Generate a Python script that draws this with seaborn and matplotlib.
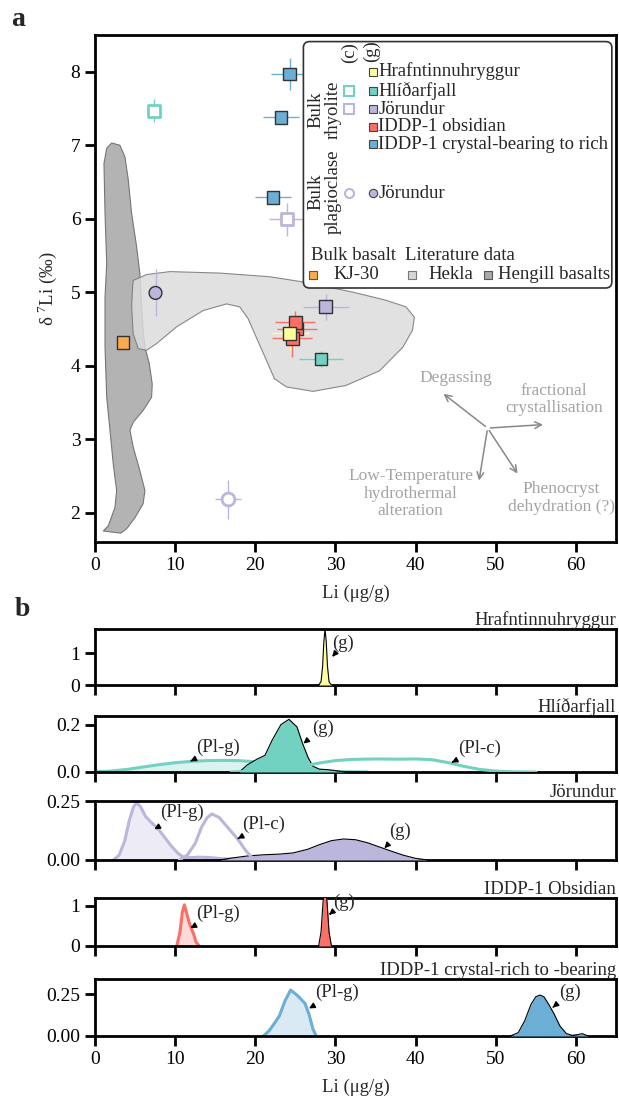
import numpy as np
import pandas as pd
import seaborn as sns
import matplotlib.pyplot as plt
from matplotlib.patches import Polygon, FancyBboxPatch

# ---------------- data: panel a (bulk values) ----------------
pt_group = ['Hlíðarfjall', 'IDDP-1 crystal', 'IDDP-1 crystal', 'IDDP-1 crystal', 'Jörundur',
            'Jörundur', 'KJ-30', 'Jörundur', 'IDDP-1 obsidian', 'IDDP-1 obsidian',
            'IDDP-1 obsidian', 'Hrafntinnuhryggur', 'Hlíðarfjall', 'Jörundur']
pt_kind = ['rhy_c', 'rhy_g', 'rhy_g', 'rhy_g', 'rhy_c',
           'plag_g', 'basalt', 'rhy_g', 'rhy_g', 'rhy_g',
           'rhy_g', 'rhy_g', 'rhy_g', 'plag_c']
pt_li = [7.4, 24.3, 23.2, 22.2, 24.0, 7.55, 3.5, 28.8, 25.2, 25.0, 24.6, 24.3, 28.2, 16.6]
pt_d7li = [7.47, 7.97, 7.38, 6.29, 5.99, 4.99, 4.32, 4.80, 4.50, 4.59, 4.37, 4.44, 4.09, 2.18]
pt_li_err = [0, 2.4, 2.3, 2.2, 2.3, 0, 0, 2.9, 2.5, 2.5, 2.5, 2.4, 2.8, 1.65]
pt_d7li_err = [0.16, 0.22, 0.05, 0.05, 0.23, 0.32, 0, 0.18, 0.15, 0.15, 0.25, 0.23, 0.11, 0.27]

# literature fields
hengill_li = [2.08, 3.1, 3.74, 4.15, 4.57, 5.19, 5.6, 5.8, 6.0, 6.23, 6.77, 7.14, 7.06, 6.0,
              4.77, 4.36, 4.77, 5.6, 6.23, 6.0, 4.98, 3.95, 3.2, 1.03, 1.66, 2.49, 2.7, 2.28,
              1.87, 1.46, 1.25, 1.25, 1.46, 1.25, 1.12, 1.46]
hengill_d7li = [7.03, 7.0, 6.84, 6.53, 6.07, 5.62, 5.25, 4.84, 4.48, 4.25, 4.03, 3.75, 3.57, 3.39,
                3.23, 3.12, 2.89, 2.57, 2.3, 2.12, 1.93, 1.78, 1.72, 1.75, 1.82, 2.07, 2.3, 2.66,
                3.12, 3.57, 4.25, 4.93, 5.39, 6.07, 6.75, 6.96]
hekla_li = [4.77, 6.44, 9.34, 15.57, 21.8, 25.9, 32.2, 36.3, 38.8, 39.85, 39.6, 38.4, 35.5, 31.3,
            27.2, 23.9, 22.4, 21.4, 20.1, 19.1, 18.06, 16.4, 13.5, 10.2, 7.68, 6.44, 5.4, 4.77,
            4.57, 4.69]
hekla_d7li = [5.16, 5.24, 5.28, 5.26, 5.21, 5.14, 5.0, 4.89, 4.8, 4.66, 4.48, 4.25, 3.93, 3.73,
              3.65, 3.71, 3.82, 4.07, 4.39, 4.64, 4.8, 4.84, 4.75, 4.53, 4.3, 4.21, 4.23, 4.43,
              4.8, 5.07]

# ---------------- data: panel b (density curves) ----------------
hraf_g_li = [27.9, 28.2, 28.4, 28.55, 28.7, 28.85, 29.0, 29.2, 29.5]
hraf_g_dens = [0.0, 0.1, 0.6, 1.35, 1.75, 1.35, 0.6, 0.1, 0.0]

hlid_plg_li = [0, 2, 4, 6, 8, 10, 12, 14, 16, 18, 20, 22, 24, 26, 28, 30, 32, 34]
hlid_plg_dens = [0.001, 0.004, 0.011, 0.021, 0.031, 0.039, 0.045, 0.048, 0.049, 0.048, 0.043,
                 0.033, 0.022, 0.012, 0.006, 0.002, 0.001, 0]
hlid_g_li = [18.0, 19.0, 20.2, 21.2, 22.1, 23.2, 24.2, 25.2, 25.9, 26.6, 27.2, 28.0, 29.0, 30.2, 31.2]
hlid_g_dens = [0, 0.03, 0.054, 0.07, 0.134, 0.2, 0.222, 0.19, 0.12, 0.06, 0.024, 0.012, 0.01, 0.005, 0]
hlid_plc_li = [17, 20, 23, 26, 28, 30, 32, 35, 38, 40, 42, 44, 46, 48, 50, 52, 55]
hlid_plc_dens = [0.0, 0.004, 0.012, 0.025, 0.038, 0.048, 0.053, 0.055, 0.054, 0.055, 0.052,
                 0.040, 0.024, 0.011, 0.004, 0.001, 0]

jor_plg_li = [2.3, 3.0, 3.7, 4.3, 4.8, 5.2, 5.7, 6.3, 7.0, 7.8, 8.6, 9.5, 10.3, 11.0, 12, 13,
              14.5, 16, 18, 20]
jor_plg_dens = [0, 0.02, 0.08, 0.17, 0.225, 0.243, 0.225, 0.185, 0.16, 0.135, 0.1, 0.06, 0.03,
                0.012, 0.01, 0.012, 0.01, 0.005, 0.002, 0]
jor_g_li = [15.5, 17, 19, 21, 23, 24.7, 26.5, 28, 29.5, 31, 32.5, 34, 35.5, 37, 38.5, 40, 41.5]
jor_g_dens = [0, 0.008, 0.017, 0.022, 0.025, 0.03, 0.045, 0.065, 0.082, 0.089, 0.086, 0.073,
              0.055, 0.037, 0.02, 0.007, 0]
jor_plc_li = [10.5, 11.5, 12.5, 13.3, 14.0, 14.6, 15.5, 16.5, 17.8, 18.8, 19.6, 20.2]
jor_plc_dens = [0, 0.02, 0.07, 0.14, 0.18, 0.195, 0.18, 0.14, 0.089, 0.04, 0.01, 0]

obs_plg_li = [10.2, 10.6, 10.9, 11.15, 11.4, 11.7, 12.0, 12.3, 12.6, 13.0]
obs_plg_dens = [0, 0.35, 0.85, 1.03, 0.85, 0.62, 0.45, 0.3, 0.1, 0]
obs_g_li = [27.9, 28.2, 28.45, 28.7, 28.95, 29.2, 29.5]
obs_g_dens = [0, 0.35, 1.1, 1.6, 1.1, 0.35, 0]

cry_plg_li = [21.0, 21.7, 22.3, 23.0, 23.7, 24.4, 25.2, 26.2, 26.7, 27.2, 27.6]
cry_plg_dens = [0, 0.03, 0.07, 0.12, 0.21, 0.275, 0.245, 0.195, 0.13, 0.04, 0]
cry_g_li = [51.8, 52.8, 53.6, 54.4, 55.0, 55.5, 56.0, 56.6, 57.3, 58.0, 58.8, 59.5, 60.2, 60.8, 61.5]
cry_g_dens = [0, 0.02, 0.09, 0.19, 0.235, 0.245, 0.235, 0.19, 0.13, 0.06, 0.015, 0.004, 0.008,
              0.014, 0]

colors = {'Hrafntinnuhryggur': '#ffff99', 'Hlíðarfjall': '#72d2c2', 'Jörundur': '#bab6dc',
          'IDDP-1 obsidian': '#fb6f67', 'IDDP-1 crystal': '#6baed6', 'KJ-30': '#fdaa4f'}

FS = 13.5

# ---------------- style ----------------
sns.set_theme(style="ticks", rc={
    'axes.linewidth': 2, 'xtick.major.width': 2, 'ytick.major.width': 2,
    'xtick.major.size': 7, 'ytick.major.size': 7, 'axes.edgecolor': 'black',
    'xtick.color': 'black', 'ytick.color': 'black',
    'xtick.labelsize': 14, 'ytick.labelsize': 14, 'axes.labelsize': FS})
plt.rcParams['font.family'] = ['Liberation Serif', 'DejaVu Serif']
plt.rcParams['mathtext.fontset'] = 'custom'
plt.rcParams['mathtext.rm'] = 'Liberation Serif'

W, H = 619, 1102
fig = plt.figure(figsize=(W / 100, H / 100), dpi=100)


def px_axes(left, top, right, bottom):
    return fig.add_axes([left / W, 1 - bottom / H, (right - left) / W, (bottom - top) / H])


# ================= panel a =================
ax = px_axes(95, 35, 616, 542)
ax.add_patch(Polygon(np.column_stack([hengill_li, hengill_d7li]), closed=True,
                     fc='#b3b3b3', ec='#767676', lw=0.8, zorder=1))
ax.add_patch(Polygon(np.column_stack([hekla_li, hekla_d7li]), closed=True,
                     fc='#dcdcdc', ec='#767676', lw=0.8, alpha=0.85, zorder=1.5))

pts = pd.DataFrame({'group': pt_group, 'kind': pt_kind, 'li': pt_li, 'd7li': pt_d7li,
                    'li_err': pt_li_err, 'd7li_err': pt_d7li_err})
for _, r in pts.iterrows():
    ax.errorbar(r.li, r.d7li, xerr=r.li_err, yerr=r.d7li_err, fmt='none',
                ecolor=colors[r.group], elinewidth=1, capsize=0, zorder=3)

filled = pts[pts.kind.isin(['rhy_g', 'plag_g', 'basalt'])]
sns.scatterplot(data=filled, x='li', y='d7li', hue='group', palette=colors, style='kind',
                markers={'rhy_g': 's', 'plag_g': 'o', 'basalt': 's'}, s=85,
                edgecolor='#333333', linewidth=1, legend=False, ax=ax, zorder=4)
opened = pts[pts.kind.isin(['rhy_c', 'plag_c'])]
for _, r in opened.iterrows():
    ax.scatter(r.li, r.d7li, marker='s' if r.kind == 'rhy_c' else 'o', s=85,
               facecolors='white', edgecolors=colors[r.group], linewidths=2, zorder=4)

ax.set_xlim(0, 65)
ax.set_ylim(1.6, 8.5)
ax.set_xticks(range(0, 61, 10))
ax.set_yticks(range(2, 9))
ax.set_xlabel('Li (μg/g)', labelpad=8)
ax.set_ylabel(r'δ $^{7}$Li (‰)', labelpad=8)

# process arrows
origin = (48.98, 3.15)
proc_heads = [(43.2, 3.64), (56.25, 3.2), (47.86, 2.40), (52.9, 2.5)]
for hx, hy in proc_heads:
    ax.annotate('', xy=(hx, hy), xytext=origin,
                arrowprops=dict(arrowstyle='->', color='#888888', lw=1.1, mutation_scale=12))
gray = '#a3a3a3'
GS = 12.5
ax.text(45.0, 3.83, 'Degassing', color=gray, ha='center', va='center', fontsize=GS)
ax.text(57.3, 3.54, 'fractional\ncrystallisation', color=gray, ha='center', va='center',
        fontsize=GS, linespacing=1.1)
ax.text(39.4, 2.26, 'Low-Temperature\nhydrothermal\nalteration', color=gray, ha='center',
        va='center', fontsize=GS, linespacing=1.1)
ax.text(58.2, 2.2, 'Phenocryst\ndehydration (?)', color=gray, ha='center', va='center',
        fontsize=GS, linespacing=1.1)

# custom legend (axes-fraction layout)
T = ax.transAxes
ax.add_patch(FancyBboxPatch((0.40, 0.501), 0.592, 0.486, boxstyle='round,pad=0,rounding_size=0.012',
                            transform=T, fc='white', ec='#333333', lw=1.2, zorder=6))
lt = dict(transform=T, fontsize=FS, zorder=7)
ax.text(0.489, 0.965, '(c)', rotation=90, ha='center', va='center', **lt)
ax.text(0.531, 0.968, '(g)', rotation=90, ha='center', va='center', **lt)
ax.text(0.44, 0.852, 'Bulk\nrhyolite', rotation=90, ha='center', va='center',
        multialignment='center', linespacing=1.0, **lt)
ax.text(0.44, 0.690, 'Bulk\nplagioclase', rotation=90, ha='center', va='center',
        multialignment='center', linespacing=1.0, **lt)

leg_rows = [('Hrafntinnuhryggur', 'Hrafntinnuhryggur', False, 's', 0.928),
            ('Hlíðarfjall', 'Hlíðarfjall', True, 's', 0.890),
            ('Jörundur', 'Jörundur', True, 's', 0.854),
            ('IDDP-1 obsidian', 'IDDP-1 obsidian', False, 's', 0.819),
            ('IDDP-1 crystal-bearing to rich', 'IDDP-1 crystal', False, 's', 0.785),
            ('Jörundur', 'Jörundur', True, 'o', 0.688)]
for label, grp, has_c, mk, fy in leg_rows:
    if has_c:
        ax.plot(0.488, fy, marker=mk, ms=6.5, mfc='white', mec=colors[grp], mew=1.5,
                transform=T, zorder=7, clip_on=False)
    ax.plot(0.533, fy, marker=mk, ms=6, mfc=colors[grp], mec='#444444', mew=0.8,
            transform=T, zorder=7, clip_on=False)
    ax.text(0.544, fy, label, ha='left', va='center', **lt)

ax.text(0.414, 0.566, 'Bulk basalt', ha='left', va='center', **lt)
ax.text(0.595, 0.566, 'Literature data', ha='left', va='center', **lt)
for fx, fc, ec in [(0.419, colors['KJ-30'], '#555555'), (0.608, '#d6d6d6', '#777777'),
                   (0.754, '#a8a8a8', '#555555')]:
    ax.plot(fx, 0.527, marker='s', ms=6, mfc=fc, mec=ec, mew=0.8, transform=T, zorder=7)
ax.text(0.457, 0.527, 'KJ-30', ha='left', va='center', **lt)
ax.text(0.640, 0.527, 'Hekla', ha='left', va='center', **lt)
ax.text(0.774, 0.527, 'Hengill basalts', ha='left', va='center', **lt)

# ================= panel b =================
panels = [
    ('Hrafntinnuhryggur', 629, 685, 1.75, [0, 1], ['0', '1'],
     [('g', hraf_g_li, hraf_g_dens, colors['Hrafntinnuhryggur'])],
     [('(g)', (29.6, 0.88), (31.0, 1.3))]),
    ('Hlíðarfjall', 716, 772, 0.236, [0, 0.2], ['0.0', '0.2'],
     [('pl_g', hlid_plg_li, hlid_plg_dens, colors['Hlíðarfjall']),
      ('g', hlid_g_li, hlid_g_dens, colors['Hlíðarfjall']),
      ('pl_c', hlid_plc_li, hlid_plc_dens, colors['Hlíðarfjall'])],
     [('(Pl-g)', (11.9, 0.045), (15.3, 0.105)), ('(g)', (26.0, 0.12), (28.4, 0.185)),
      ('(Pl-c)', (44.5, 0.04), (48.0, 0.1))]),
    ('Jörundur', 801, 860, 0.25, [0, 0.25], ['0.00', '0.25'],
     [('pl_g', jor_plg_li, jor_plg_dens, colors['Jörundur']),
      ('g', jor_g_li, jor_g_dens, colors['Jörundur']),
      ('pl_c', jor_plc_li, jor_plc_dens, colors['Jörundur'])],
     [('(Pl-g)', (7.4, 0.13), (10.9, 0.2)), ('(Pl-c)', (17.8, 0.09), (21.0, 0.15)),
      ('(g)', (36.1, 0.05), (38.1, 0.12))]),
    ('IDDP-1 Obsidian', 898, 946, 1.2, [0, 1], ['0', '1'],
     [('pl_g', obs_plg_li, obs_plg_dens, colors['IDDP-1 obsidian']),
      ('g', obs_g_li, obs_g_dens, colors['IDDP-1 obsidian'])],
     [('(Pl-g)', (11.9, 0.45), (15.4, 0.82)), ('(g)', (29.2, 0.78), (31.1, 1.1))]),
    ('IDDP-1 crystal-rich to -bearing', 979, 1036, 0.341, [0, 0.25], ['0.00', '0.25'],
     [('pl_g', cry_plg_li, cry_plg_dens, colors['IDDP-1 crystal']),
      ('g', cry_g_li, cry_g_dens, colors['IDDP-1 crystal'])],
     [('(Pl-g)', (26.7, 0.165), (30.2, 0.26)), ('(g)', (57.1, 0.17), (59.3, 0.26))]),
]

for i, (title, top, bottom, ymax, yt, ytl, curves, notes) in enumerate(panels):
    bx = px_axes(95, top, 616, bottom)
    for kind, xs, ys, col in curves:
        if kind == 'g':
            bx.fill_between(xs, ys, color=col, lw=0, zorder=3)
            sns.lineplot(x=xs, y=ys, color='black', lw=0.8, sort=False, estimator=None,
                         ax=bx, zorder=4)
        elif kind == 'pl_g':
            bx.fill_between(xs, ys, color=col, alpha=0.25, lw=0, zorder=1)
            sns.lineplot(x=xs, y=ys, color=col, lw=2.2, sort=False, estimator=None,
                         ax=bx, zorder=2)
        else:
            sns.lineplot(x=xs, y=ys, color=col, lw=2.2, sort=False, estimator=None,
                         ax=bx, zorder=5)
    for label, xy, xytext in notes:
        bx.annotate(label, xy=xy, xytext=xytext, fontsize=FS, ha='center', va='center',
                    zorder=6, arrowprops=dict(arrowstyle='-|>', color='black', lw=1.1,
                                              mutation_scale=8, shrinkA=3, shrinkB=0))
    bx.set_xlim(0, 65)
    bx.set_ylim(0, ymax)
    bx.set_yticks(yt)
    bx.set_yticklabels(ytl)
    bx.set_xticks(range(0, 61, 10))
    bx.set_title(title, loc='right', fontsize=FS, pad=2)
    bx.set_ylabel('')
    if i < len(panels) - 1:
        bx.set_xticklabels([])
        bx.set_xlabel('')
    else:
        bx.set_xlabel('Li (μg/g)', labelpad=8)

fig.text(18 / W, 1 - 20 / H, 'a', fontsize=20, fontweight='bold', ha='center', va='center')
fig.text(22 / W, 1 - 610 / H, 'b', fontsize=20, fontweight='bold', ha='center', va='center')

fig.savefig('out.png', dpi=100)
